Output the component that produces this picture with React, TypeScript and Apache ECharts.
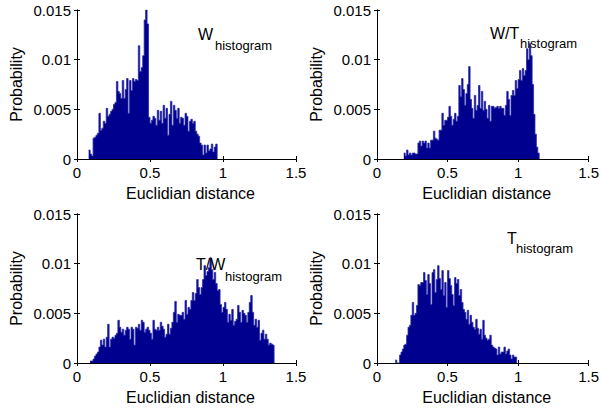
import React, { useEffect, useRef } from "react";
import * as echarts from "echarts";

// Histogram bin width and per-panel first bin (Euclidian distance)
const BIN = 0.01;
const SCALE = 1e-4; // values below are probabilities in units of 1e-4

const wStart = 0.08;
const wValues = [9,5,3,21,22,24,26,46,29,31,38,36,51,43,45,48,50,55,57,78,68,66,61,79,61,70,81,46,79,69,81,78,80,79,114,88,92,104,140,150,136,42,
  36,39,43,41,34,49,39,48,36,54,41,51,24,45,58,34,54,49,41,51,36,42,41,34,46,43,28,38,40,36,38,28,25,23,16,14,4,14,6,14,8,10,15,7,12,15];

const wtStart = 0.19;
const wtValues = [6,3,9,4,6,4,6,6,5,5,16,18,13,18,16,18,11,16,11,19,19,28,21,20,19,29,29,46,34,39,39,42,53,43,34,40,46,38,43,74,63,81,70,54,66,75,93,
  60,51,41,64,49,54,74,51,68,49,58,50,41,54,38,53,53,51,52,53,51,53,51,51,44,54,68,60,44,64,69,64,79,71,80,89,79,91,84,89,111,100,116,104,75,45,25,12,6];

const twStart = 0.09;
const twValues = [2,2,4,7,9,11,16,23,18,24,16,26,39,16,24,26,25,28,30,43,36,31,34,28,33,36,34,24,36,34,18,36,35,39,33,43,41,31,34,36,33,30,24,43,34,33,36,33,41,37,34,26,29,39,29,35,41,51,62,41,49,48,
  48,51,44,63,49,56,54,63,71,63,70,84,76,69,76,84,98,88,92,96,106,94,84,91,80,73,74,59,51,56,61,54,41,49,43,54,38,42,44,58,51,41,53,50,48,41,51,61,68,51,38,44,36,43,23,30,33,24,29,24,18,20,19,18];

const tStart = 0.13;
const tValues = [3,0,0,8,11,14,18,19,28,36,38,48,61,48,50,58,79,78,81,81,91,83,69,89,80,59,91,94,71,84,98,85,74,93,68,81,56,93,85,78,69,58,86,80,84,68,74,61,54,51,44,53,39,48,41,36,34,44,35,29,34,24,43,28,25,23,24,28,18,16,15,14,8,16,9,11,11,16,9,12,14,8,4,8,6,6];

const panelTitles = ["W", "W/T", "T/W", "T"];
const subscriptText = "histogram";
const xTicks = [0, 0.5, 1, 1.5];
const yTicks = [0, 0.005, 0.01, 0.015];

const FONT = "'Liberation Sans', Arial, Helvetica, sans-serif";
const BAR = "#00008f";

// histogram as step outline: each bin start with its value, closed at the last bin's right edge
function toSteps(start: number, vals: number[]) {
  const pts = vals.map((v, i) => [+(start + i * BIN).toFixed(4), v * SCALE]);
  pts.push([+(start + vals.length * BIN).toFixed(4), 0]);
  return pts;
}

const panels = [
  { data: toSteps(wStart, wValues), grid: { left: 77, top: 10, width: 219, height: 149 } },
  { data: toSteps(wtStart, wtValues), grid: { left: 377, top: 10, width: 217, height: 149 } },
  { data: toSteps(twStart, twValues), grid: { left: 77, top: 214, width: 219, height: 149 } },
  { data: toSteps(tStart, tValues), grid: { left: 377, top: 214, width: 217, height: 149 } },
];

const titlePos = [
  { mx: 198, my: 34, sx: 215, sy: 45 },
  { mx: 490, my: 33, sx: 520, sy: 43 },
  { mx: 196, my: 264, sx: 225, sy: 276 },
  { mx: 507, my: 238, sx: 516, sy: 248 },
];

export default function App() {
  const ref = useRef<HTMLDivElement>(null);
  useEffect(() => {
    if (!ref.current) return;
    const chart = echarts.init(ref.current, null, { renderer: "svg" });
    const xAxis: any[] = [];
    const yAxis: any[] = [];
    const series: any[] = [];
    const tickLine = { show: true, lineStyle: { color: "#000", width: 1 } };
    panels.forEach((p, i) => {
      xAxis.push({
        type: "value", gridIndex: i, min: xTicks[0], max: xTicks[xTicks.length - 1], interval: 0.5,
        axisLine: tickLine, axisTick: { show: true, inside: true, length: 3, lineStyle: { color: "#000" } },
        axisLabel: { color: "#000", fontSize: 15, fontFamily: FONT, margin: 6, formatter: (v: number) => String(v) },
        splitLine: { show: false },
        name: "Euclidian distance", nameLocation: "middle", nameGap: 26,
        nameTextStyle: { color: "#000", fontSize: 16, fontFamily: FONT, padding: [0, 0, 0, 8] },
      });
      xAxis.push({
        type: "value", gridIndex: i, position: "top", min: 0, max: 1.5, interval: 0.5,
        axisLine: tickLine, axisTick: { show: true, inside: true, length: 3, lineStyle: { color: "#000" } },
        axisLabel: { show: false }, splitLine: { show: false },
      });
      yAxis.push({
        type: "value", gridIndex: i, min: yTicks[0], max: yTicks[yTicks.length - 1], interval: 0.005,
        axisLine: tickLine, axisTick: { show: true, inside: true, length: 3, lineStyle: { color: "#000" } },
        axisLabel: { color: "#000", fontSize: 15, fontFamily: FONT, margin: 6, formatter: (v: number) => String(+v.toFixed(3)) },
        splitLine: { show: false },
        name: "Probability", nameLocation: "middle", nameGap: 53, nameRotate: 90,
        nameTextStyle: { color: "#000", fontSize: 16, fontFamily: FONT },
      });
      yAxis.push({
        type: "value", gridIndex: i, position: "right", min: 0, max: 0.015, interval: 0.005,
        axisLine: tickLine, axisTick: { show: true, inside: true, length: 3, lineStyle: { color: "#000" } },
        axisLabel: { show: false }, splitLine: { show: false },
      });
      series.push({
        type: "line", xAxisIndex: 2 * i, yAxisIndex: 2 * i, data: p.data,
        step: "end", showSymbol: false, symbol: "none",
        lineStyle: { color: "#2a2aa8", width: 0.8 },
        areaStyle: { color: BAR, opacity: 1, origin: "start" },
        z: 1,
      });
    });
    const graphic: any[] = [];
    titlePos.forEach((t, i) => {
      graphic.push({ type: "text", x: t.mx, y: t.my, z: 10, style: { text: panelTitles[i], fill: "#000", fontSize: 16, fontFamily: FONT, verticalAlign: "middle", align: "left" } });
      graphic.push({ type: "text", x: t.sx, y: t.sy, z: 10, style: { text: subscriptText, fill: "#000", fontSize: 13, fontFamily: FONT, verticalAlign: "middle", align: "left" } });
    });
    chart.setOption({
      animation: false,
      backgroundColor: "#fff",
      grid: panels.map((p) => ({ ...p.grid, containLabel: false })),
      xAxis, yAxis, series, graphic,
    });
    return () => chart.dispose();
  }, []);
  return <div ref={ref} style={{ position: "absolute", left: 0, top: 0, width: 602, height: 411 }} />;
}
